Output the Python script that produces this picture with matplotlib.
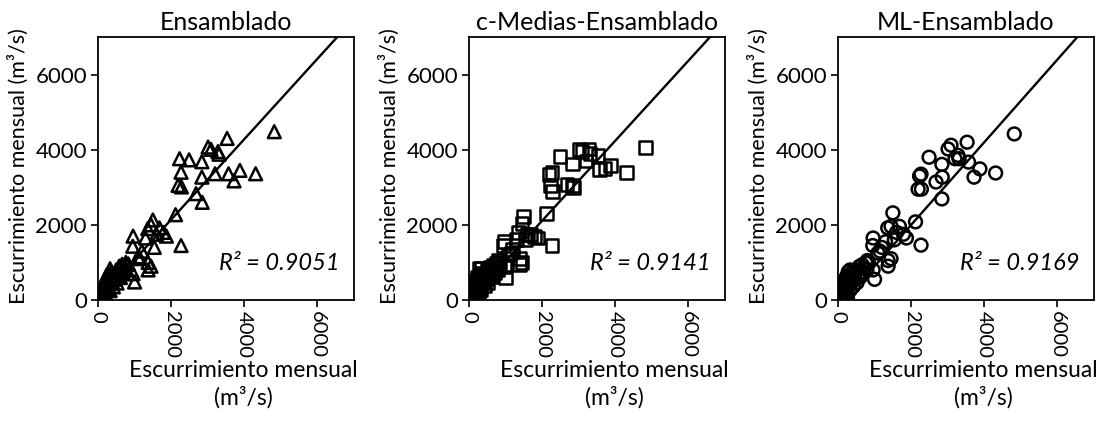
import matplotlib
matplotlib.use("Agg")
import matplotlib.pyplot as plt
import numpy as np

plt.rcParams['font.family'] = ['Lato', 'DejaVu Sans']

titles = ["Ensamblado", "c-Medias-Ensamblado", "ML-Ensamblado"]
r2_labels = ["R² = 0.9051", "R² = 0.9141", "R² = 0.9169"]
markers = ["^", "s", "o"]
axis_label = "Escurrimiento mensual (m³/s)"
xlabel_text = "Escurrimiento mensual\n(m³/s)"
ticks = [0, 2000, 4000, 6000]

# observed monthly runoff (shared x)
x_obs = [4820, 3530, 3010, 3090, 3280, 3310, 2230, 2490, 2840, 2270, 2840, 3200,
         3570, 3880, 4310, 3720, 2190, 2280, 2680, 2850, 2120, 2270,
         1500, 1450, 1360, 1680, 1790, 1870, 1540, 960, 950, 1090, 1370, 1370,
         1450, 830, 960, 1000, 700, 600, 330, 1200, 1150, 800, 1600, 1300,
         80, 100, 110, 130, 150, 160, 180, 200, 210, 230, 250, 260, 280, 300,
         310, 330, 350, 370, 390, 400, 420, 450, 470, 500, 520, 550, 580, 610,
         640, 660, 700, 730, 760, 790, 120, 170, 220, 260, 140, 190]

y_ens = [4480, 4300, 4070, 4010, 3950, 3880, 3760, 3730, 3680, 3400, 3270, 3360,
         3360, 3450, 3360, 3170, 3050, 3010, 2830, 2600, 2270, 1450,
         2130, 2000, 1900, 1920, 1800, 1700, 1400, 1700, 1430, 1150, 1000, 800,
         900, 960, 700, 480, 800, 600, 830, 1300, 1100, 950, 1750, 1650,
         60, 150, 250, 120, 300, 450, 200, 550, 350, 650, 300, 500, 700, 420,
         600, 250, 550, 750, 480, 650, 350, 700, 550, 800, 450, 650, 900, 600,
         750, 950, 700, 850, 1000, 800, 30, 80, 120, 60, 20, 100]

y_cme = [4060, 3850, 4000, 3950, 4020, 3890, 3050, 3830, 3620, 3400, 3050, 3700,
         3480, 3580, 3400, 3500, 3350, 2880, 3080, 3000, 2300, 1440,
         2220, 2040, 1800, 1750, 1700, 1650, 1600, 1550, 1450, 1200, 1100, 950,
         1000, 1000, 900, 600, 800, 700, 850, 1350, 1250, 1050, 1750, 1600,
         80, 130, 280, 100, 320, 420, 220, 500, 380, 600, 280, 520, 850, 400,
         580, 270, 520, 700, 500, 620, 380, 680, 560, 780, 470, 640, 880, 620,
         760, 920, 720, 840, 980, 820, 40, 90, 130, 70, 30, 110]

y_ml = [4420, 4200, 4020, 4120, 3850, 3760, 3300, 3800, 3610, 3350, 2690, 3760,
        3670, 3490, 3380, 3270, 2950, 2950, 3140, 3270, 2080, 1460,
        2320, 1960, 1920, 1960, 1750, 1650, 1600, 1650, 1450, 1250, 1050, 900,
        1100, 1000, 800, 550, 850, 700, 800, 1400, 1300, 1050, 1800, 1550,
        70, 140, 260, 110, 310, 430, 210, 520, 360, 620, 290, 510, 750, 410,
        590, 260, 540, 720, 490, 640, 360, 690, 550, 790, 460, 650, 890, 610,
        750, 940, 710, 850, 990, 810, 35, 85, 125, 65, 25, 105]

# trend lines (slope, intercept)
trend = [(1.07, 0), (1.065, -20), (1.10, -200)]

series = [y_ens, y_cme, y_ml]
lefts = [98, 469, 838]

fig = plt.figure(figsize=(11.02, 4.40), dpi=100)
for i in range(3):
    ax = fig.add_axes([lefts[i] / 1102, 140 / 440, 256 / 1102, 263 / 440])
    ax.scatter(x_obs, series[i], marker=markers[i], s=85, facecolors='none',
               edgecolors='black', linewidths=1.8, zorder=3)
    m, b = trend[i]
    xl = np.array([0, 7000])
    ax.plot(xl, m * xl + b, color='black', linewidth=1.7, zorder=2)
    ax.set_xlim(0, 7000)
    ax.set_ylim(0, 7000)
    ax.set_xticks(ticks)
    ax.set_yticks(ticks)
    ax.tick_params(axis='x', labelrotation=-90, labelsize=14.5, length=5, width=1.2, pad=3)
    ax.tick_params(axis='y', labelsize=16, length=5, width=1.2, pad=3)
    for s in ax.spines.values():
        s.set_linewidth(1.3)
    ax.set_title(titles[i], fontsize=18, pad=5)
    ax.set_ylabel(axis_label, fontsize=15.5, va='center')
    ax.yaxis.set_label_coords(-0.31, 0.51)
    ax.set_xlabel(xlabel_text, fontsize=16.5, linespacing=1.25)
    ax.xaxis.set_label_coords(0.566, -0.23)
    ax.text(0.945, 0.14, r2_labels[i], transform=ax.transAxes, ha='right',
            va='center', fontsize=17, style='italic')

fig.savefig("out.png", dpi=100)
